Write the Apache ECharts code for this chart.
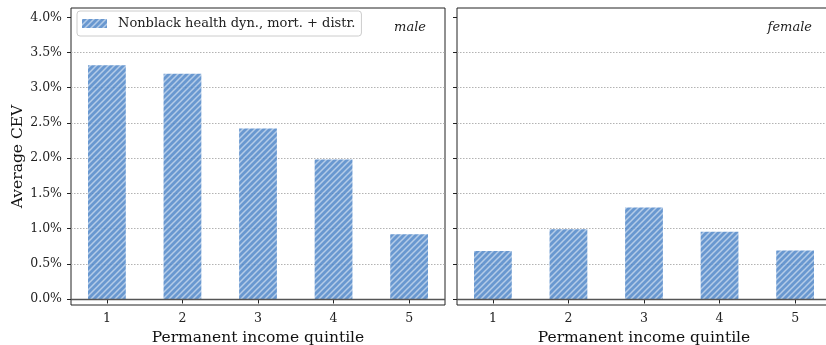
<!DOCTYPE html>
<html>
<head>
<meta charset="utf-8">
<script src="https://cdn.jsdelivr.net/npm/echarts@6/dist/echarts.min.js"></script>
<style>
html,body{margin:0;padding:0;background:#fff;}
#chart{width:826px;height:345px;}
</style>
</head>
<body>
<div id="chart"></div>
<script>
// ---- data ----
const quintiles = [1, 2, 3, 4, 5];
const maleCEV = [3.32, 3.20, 2.42, 1.98, 0.92];     // percent
const femaleCEV = [0.68, 0.99, 1.30, 0.955, 0.69];  // percent
const yTicks = [0, 0.5, 1.0, 1.5, 2.0, 2.5, 3.0, 3.5, 4.0];
const seriesName = 'Nonblack health dyn., mort. + distr.';
const panelLabels = ['male', 'female'];
const xAxisTitle = 'Permanent income quintile';
const yAxisTitle = 'Average CEV';

// ---- hatch pattern ----
function makeHatch() {
  const s = 6;
  const c = document.createElement('canvas');
  c.width = s; c.height = s;
  const g = c.getContext('2d');
  g.fillStyle = '#4f86c8';
  g.fillRect(0, 0, s, s);
  g.strokeStyle = 'rgba(255,255,255,0.5)';
  g.lineWidth = 1.5;
  g.beginPath();
  g.moveTo(0, s); g.lineTo(s, 0);
  g.moveTo(-1, 1); g.lineTo(1, -1);
  g.moveTo(s - 1, s + 1); g.lineTo(s + 1, s - 1);
  g.stroke();
  return c;
}
const hatch = { image: makeHatch(), repeat: 'repeat' };

const FONT = 'DejaVu Serif';
const frame = '#222';

function xAxisCfg(idx) {
  return {
    type: 'value', gridIndex: idx, min: 0.525, max: 5.475,
    name: xAxisTitle, nameLocation: 'middle', nameGap: 23,
    nameTextStyle: { fontFamily: FONT, fontSize: 15.5, color: '#111' },
    axisLine: { show: false },
    axisTick: { show: true, length: 4.5, customValues: quintiles, lineStyle: { color: frame, width: 1 } },
    axisLabel: { customValues: quintiles, margin: 7, fontFamily: FONT, fontSize: 12.5, color: '#222',
                 formatter: v => String(v) },
    splitLine: { show: false }
  };
}
function yAxisCfg(idx, showLabels) {
  return {
    type: 'value', gridIndex: idx, min: -0.085, max: 4.132, splitNumber: 8,
    name: showLabels ? yAxisTitle : '', nameLocation: 'middle', nameGap: 45,
    nameTextStyle: { fontFamily: FONT, fontSize: 15.5, color: '#111' },
    axisLine: { show: false },
    axisTick: { show: true, length: 4, customValues: yTicks, lineStyle: { color: frame, width: 1 } },
    axisLabel: { show: showLabels, customValues: yTicks, margin: 9, fontFamily: FONT, fontSize: 12.5, color: '#222',
                 formatter: v => v.toFixed(1) + '%' },
    splitLine: { show: true, showMinLine: false, showMaxLine: false,
                 lineStyle: { color: '#aaa', width: 0.9, type: [1.5, 1.5] } }
  };
}
function barSeries(idx, vals) {
  return {
    type: 'bar', name: seriesName, xAxisIndex: idx, yAxisIndex: idx,
    data: quintiles.map((q, i) => [q, vals[i]]),
    barWidth: '50%',
    itemStyle: { color: hatch, opacity: 0.85 },
    emphasis: { disabled: true },
    markLine: {
      silent: true, symbol: 'none', label: { show: false },
      lineStyle: { color: '#555', width: 1.3, type: 'solid' },
      data: [{ yAxis: 0 }]
    }
  };
}

const chart = echarts.init(document.getElementById('chart'), null, { renderer: 'canvas' });
chart.setOption({
  animation: false,
  backgroundColor: '#fff',
  grid: [
    { left: 71, top: 8, width: 374, height: 297, outerBoundsMode: 'none', containLabel: false,
      show: true, borderColor: frame, borderWidth: 1, backgroundColor: 'transparent' },
    { left: 457, top: 8, width: 374, height: 297, outerBoundsMode: 'none', containLabel: false,
      show: true, borderColor: frame, borderWidth: 1, backgroundColor: 'transparent' }
  ],
  title: [
    { text: panelLabels[0], right: 400, top: 21.5, padding: 0,
      textStyle: { fontFamily: FONT, fontStyle: 'italic', fontWeight: 'normal', fontSize: 13, color: '#222' } },
    { text: panelLabels[1], right: 14, top: 21.5, padding: 0,
      textStyle: { fontFamily: FONT, fontStyle: 'italic', fontWeight: 'normal', fontSize: 13, color: '#222' } }
  ],
  legend: {
    left: 77, top: 11, orient: 'vertical',
    data: [{ name: seriesName, icon: 'rect' }],
    itemWidth: 25, itemHeight: 9,
    padding: [6, 6, 6, 5],
    backgroundColor: 'rgba(255,255,255,0.8)',
    borderColor: '#ccc', borderWidth: 1, borderRadius: 3,
    textStyle: { fontFamily: FONT, fontSize: 13, color: '#222', padding: [0, 0, 0, 6] },
    selectedMode: false
  },
  xAxis: [xAxisCfg(0), xAxisCfg(1)],
  yAxis: [yAxisCfg(0, true), yAxisCfg(1, false)],
  series: [barSeries(0, maleCEV), barSeries(1, femaleCEV)]
});
</script>
</body>
</html>
